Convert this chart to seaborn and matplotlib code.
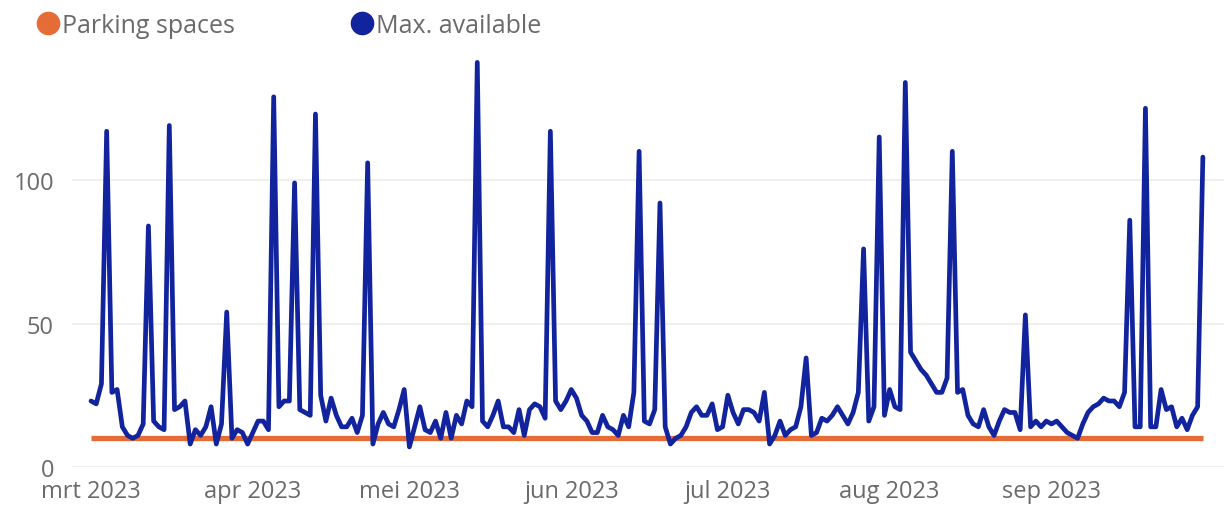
import matplotlib
matplotlib.use("Agg")
import matplotlib.pyplot as plt
from matplotlib.lines import Line2D
import pandas as pd
import seaborn as sns

# -------------------------------
# Data (daily, 1 mrt - 30 sep 2023)
# -------------------------------
dates = pd.date_range("2023-03-01", "2023-09-30", freq="D")

max_available = [
    23, 22, 29, 117, 26, 27, 14, 11, 10, 11,
    15, 84, 16, 14, 13, 119, 20, 21, 23, 8,
    13, 11, 14, 21, 8, 15, 54, 10, 13, 12,
    8, 12, 16, 16, 13, 129, 21, 23, 23, 99,
    20, 19, 18, 123, 25, 16, 24, 18, 14, 14,
    17, 12, 18, 106, 8, 15, 19, 15, 14, 20,
    27, 7, 14, 21, 13, 12, 16, 10, 19, 10,
    18, 15, 23, 21, 141, 16, 14, 18, 23, 14,
    14, 12, 20, 11, 20, 22, 21, 17, 117, 23,
    20, 23, 27, 24, 18, 16, 12, 12, 18, 14,
    13, 11, 18, 14, 26, 110, 16, 15, 20, 92,
    14, 8, 10, 11, 14, 19, 21, 18, 18, 22,
    13, 14, 25, 19, 15, 20, 20, 19, 16, 26,
    8, 11, 16, 11, 13, 14, 21, 38, 11, 12,
    17, 16, 18, 21, 18, 15, 19, 26, 76, 16,
    21, 115, 18, 27, 21, 20, 134, 40, 37, 34,
    32, 29, 26, 26, 31, 110, 26, 27, 18, 15,
    14, 20, 14, 11, 16, 20, 19, 19, 13, 53,
    14, 16, 14, 16, 15, 16, 14, 12, 11, 10,
    15, 19, 21, 22, 24, 23, 23, 21, 26, 86,
    14, 14, 125, 14, 14, 27, 20, 21, 14, 17,
    13, 18, 21, 108,
]
parking_spaces = [10] * len(dates)

series_names = ["Parking spaces", "Max. available"]
series_colors = ["#E66C37", "#12239E"]

month_starts = pd.date_range("2023-03-01", periods=7, freq="MS")
month_labels = ["mrt 2023", "apr 2023", "mei 2023", "jun 2023",
                "jul 2023", "aug 2023", "sep 2023"]
y_ticks = [0, 50, 100]

df = pd.DataFrame({
    "date": list(dates) * 2,
    "value": parking_spaces + max_available,
    "series": [series_names[0]] * len(dates) + [series_names[1]] * len(dates),
})

# -------------------------------
# Plot
# -------------------------------
sns.set_style("white")
plt.rcParams["font.family"] = ["Open Sans", "DejaVu Sans"]

W, H = 1224, 510
fig = plt.figure(figsize=(W / 100, H / 100), dpi=100)
ax = fig.add_axes([72 / W, 42 / H, (W - 72) / W, 407.5 / H])

sns.lineplot(
    data=df[df["series"] == series_names[0]],
    x="date", y="value",
    color=series_colors[0], linewidth=3.8,
    solid_capstyle="butt", ax=ax, legend=False,
)
sns.lineplot(
    data=df[df["series"] == series_names[1]],
    x="date", y="value",
    color=series_colors[1], linewidth=3.4,
    ax=ax, legend=False,
)

ax.set_xlim(dates[0] - pd.Timedelta(days=3.64),
            dates[0] + pd.Timedelta(days=217.05))
ax.set_ylim(0, 142)

ax.set_xticks(month_starts)
ax.set_xticklabels(month_labels)
ax.set_yticks(y_ticks)
ax.set_yticklabels([str(t) for t in y_ticks])

ax.set_xlabel("")
ax.set_ylabel("")

text_color = "#6a6a6a"
ax.tick_params(axis="x", length=0, pad=9, labelsize=17, labelcolor=text_color)
ax.tick_params(axis="y", length=0, pad=13, labelsize=17, labelcolor=text_color)

ax.grid(axis="y", color="#ececec", linewidth=1.2)
ax.grid(axis="x", visible=False)
ax.set_axisbelow(True)
for spine in ax.spines.values():
    spine.set_visible(False)

# -------------------------------
# Legend
# -------------------------------
legend_x = [37, 351]
for name, color, x0 in zip(series_names, series_colors, legend_x):
    handle = Line2D([], [], marker="o", linestyle="", markersize=16,
                    markerfacecolor=color, markeredgecolor=color)
    leg = fig.legend(
        [handle], [name],
        loc="upper left", bbox_to_anchor=(x0 / W, 1 - 14 / H),
        frameon=False, fontsize=18, handlelength=0.9,
        handletextpad=0.1, borderpad=0, borderaxespad=0,
    )
    for t in leg.get_texts():
        t.set_color(text_color)

fig.savefig("out.png", dpi=100)
plt.close(fig)
